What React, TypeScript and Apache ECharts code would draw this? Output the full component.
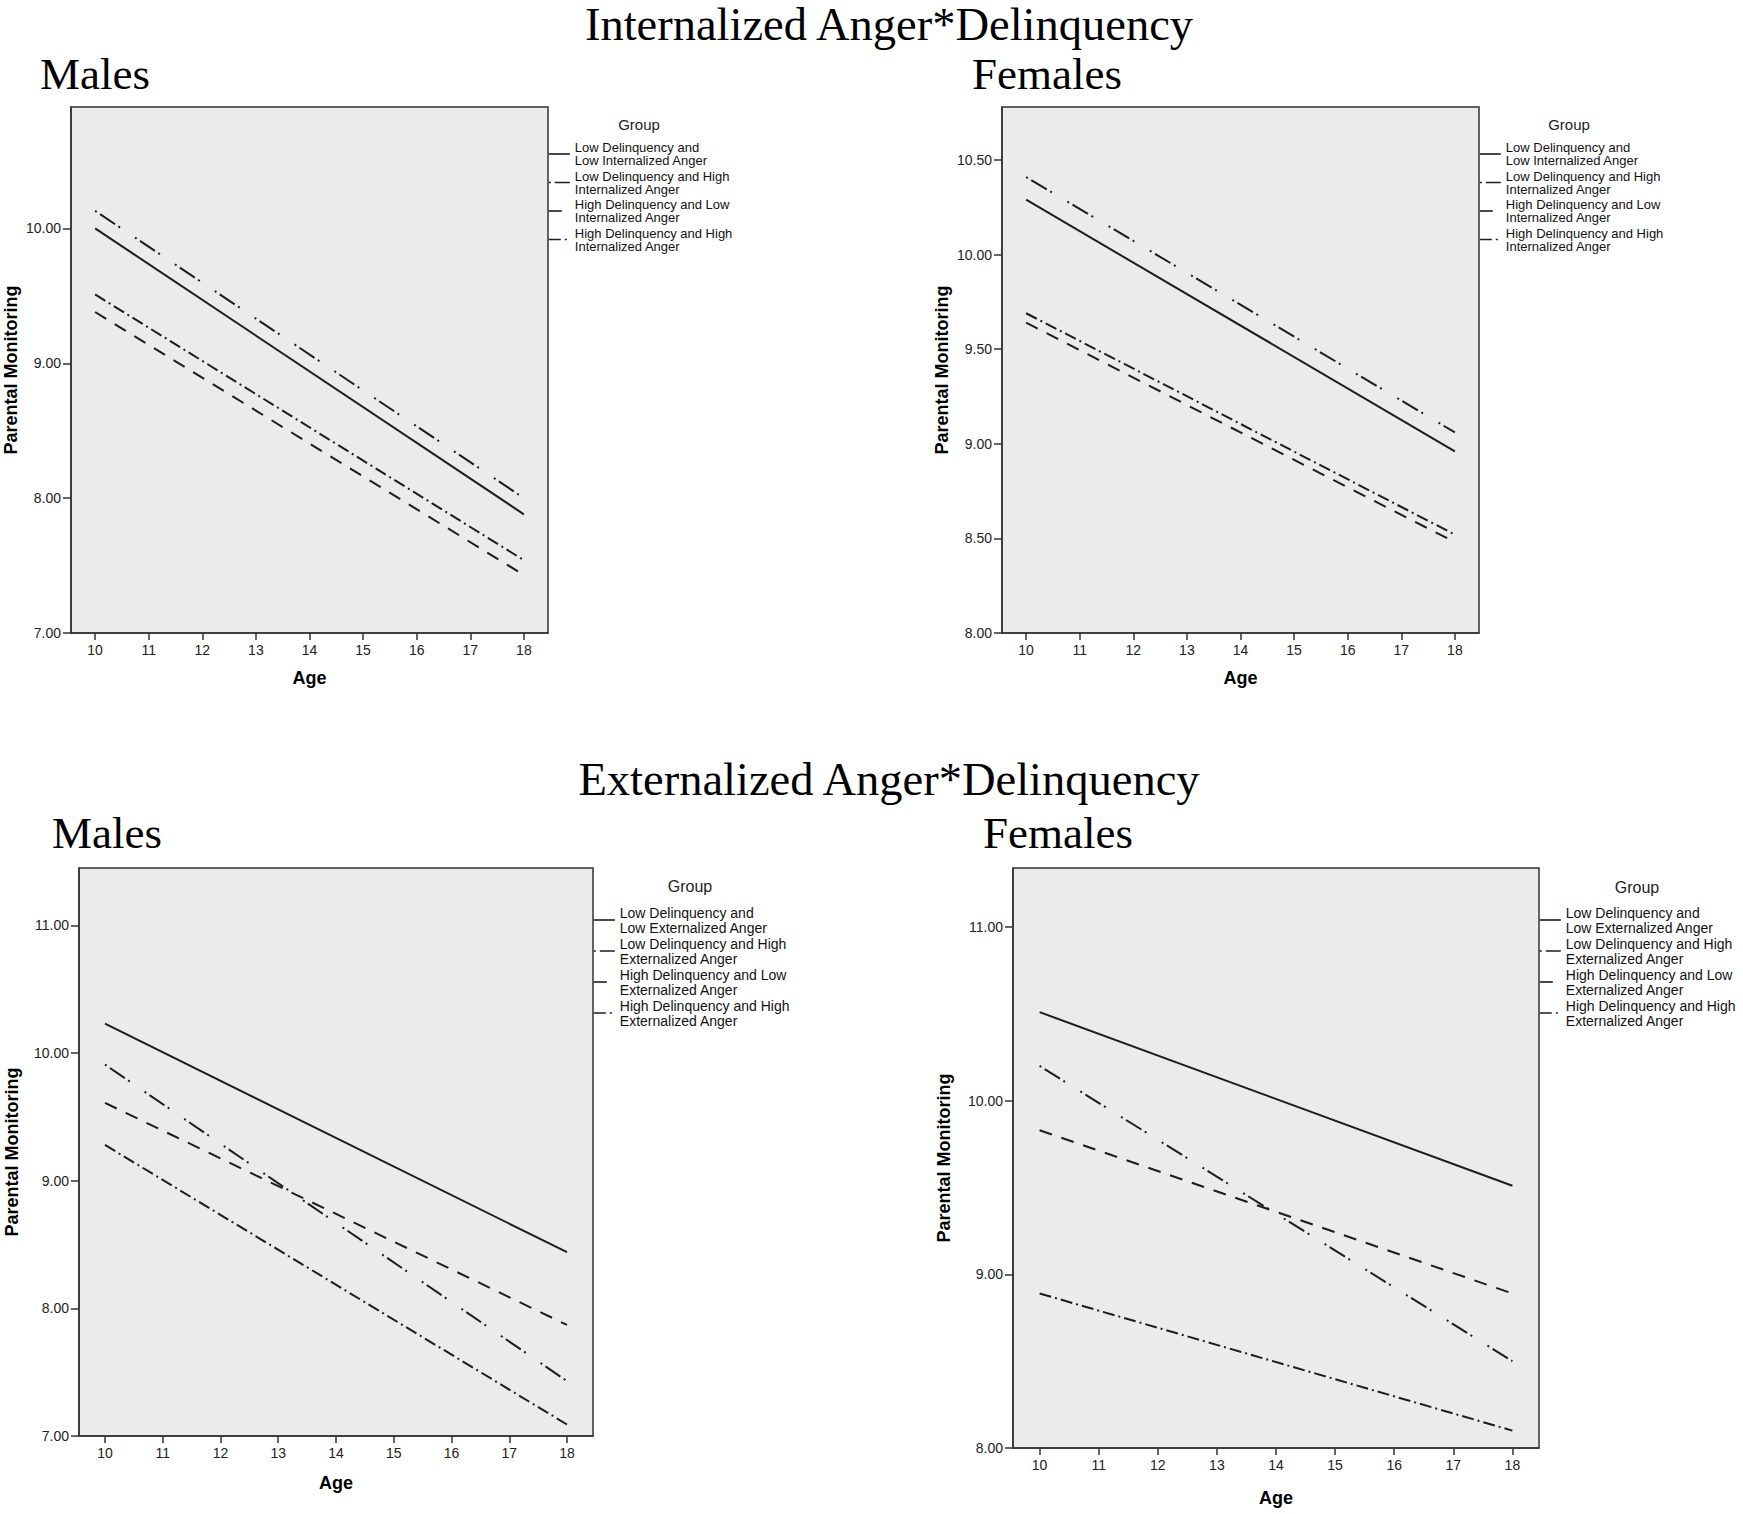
import React, { useEffect, useRef } from "react";
import * as echarts from "echarts";

// ---------- data ----------
const ages = [10, 18];
const xTicks = [10, 11, 12, 13, 14, 15, 16, 17, 18];

const internalizedGroups = [
  "Low Delinquency and\nLow Internalized Anger",
  "Low Delinquency and High\nInternalized Anger",
  "High Delinquency and Low\nInternalized Anger",
  "High Delinquency and High\nInternalized Anger",
];
const externalizedGroups = [
  "Low Delinquency and\nLow Externalized Anger",
  "Low Delinquency and High\nExternalized Anger",
  "High Delinquency and Low\nExternalized Anger",
  "High Delinquency and High\nExternalized Anger",
];

// Parental Monitoring at age 10 and age 18
const intMalesLowLow = [10.0, 7.88];
const intMalesLowHigh = [10.13, 8.0];
const intMalesHighLow = [9.38, 7.43];
const intMalesHighHigh = [9.51, 7.54];

const intFemalesLowLow = [10.29, 8.96];
const intFemalesLowHigh = [10.41, 9.06];
const intFemalesHighLow = [9.64, 8.48];
const intFemalesHighHigh = [9.69, 8.52];

const extMalesLowLow = [10.23, 8.44];
const extMalesLowHigh = [9.91, 7.43];
const extMalesHighLow = [9.61, 7.87];
const extMalesHighHigh = [9.28, 7.09];

const extFemalesLowLow = [10.51, 9.51];
const extFemalesLowHigh = [10.2, 8.5];
const extFemalesHighLow = [9.83, 8.89];
const extFemalesHighHigh = [8.89, 8.1];

const yTicksIntMales = [7, 8, 9, 10];
const yTicksIntFemales = [8, 8.5, 9, 9.5, 10, 10.5];
const yTicksExtMales = [7, 8, 9, 10, 11];
const yTicksExtFemales = [8, 9, 10, 11];

const titleInternalized = "Internalized Anger*Delinquency";
const titleExternalized = "Externalized Anger*Delinquency";

// ---------- layout / style ----------
const lineTypes: any[] = ["solid", [2, 4, 18, 4, 2, 18], [13, 10], [12, 4, 2, 4]];
const LINE_COLOR = "#1c1c1c";
const AXIS_COLOR = "#333333";

const panels = [
  {
    grid: { left: 71, top: 107, width: 477, height: 526 },
    yMin: 7, yMax: 10.9, yTicks: yTicksIntMales,
    groups: internalizedGroups,
    values: [intMalesLowLow, intMalesLowHigh, intMalesHighLow, intMalesHighHigh],
    xNameGap: 36, yNameGap: 51,
    legendTop: 141, legendGap: 2.5, legendFont: 13, legendLH: 13,
    groupX: 639, groupY: 124, groupFont: 15,
  },
  {
    grid: { left: 1002, top: 107, width: 477, height: 526 },
    yMin: 8, yMax: 10.78, yTicks: yTicksIntFemales,
    groups: internalizedGroups,
    values: [intFemalesLowLow, intFemalesLowHigh, intFemalesHighLow, intFemalesHighHigh],
    xNameGap: 36, yNameGap: 51,
    legendTop: 141, legendGap: 2.5, legendFont: 13, legendLH: 13,
    groupX: 1569, groupY: 124, groupFont: 15,
  },
  {
    grid: { left: 79, top: 868, width: 514, height: 568 },
    yMin: 7, yMax: 11.45, yTicks: yTicksExtMales,
    groups: externalizedGroups,
    values: [extMalesLowLow, extMalesLowHigh, extMalesHighLow, extMalesHighHigh],
    xNameGap: 38, yNameGap: 58,
    legendTop: 905, legendGap: 1, legendFont: 14, legendLH: 15,
    groupX: 690, groupY: 886, groupFont: 16,
  },
  {
    grid: { left: 1013, top: 868, width: 526, height: 580 },
    yMin: 8, yMax: 11.34, yTicks: yTicksExtFemales,
    groups: externalizedGroups,
    values: [extFemalesLowLow, extFemalesLowHigh, extFemalesHighLow, extFemalesHighHigh],
    xNameGap: 41, yNameGap: 60,
    legendTop: 905, legendGap: 1, legendFont: 14, legendLH: 15,
    groupX: 1637, groupY: 887, groupFont: 16,
  },
];

const headings = [
  { text: titleInternalized, x: 889, y: 24, align: "center", size: 46.5 },
  { text: "Males", x: 40, y: 74, align: "left", size: 45 },
  { text: "Females", x: 972, y: 74, align: "left", size: 45 },
  { text: titleExternalized, x: 889, y: 779, align: "center", size: 46.5 },
  { text: "Males", x: 52, y: 833, align: "left", size: 45 },
  { text: "Females", x: 983, y: 833, align: "left", size: 45 },
];

function buildOption() {
  const grid: any[] = [];
  const xAxis: any[] = [];
  const yAxis: any[] = [];
  const series: any[] = [];
  const legend: any[] = [];
  const graphic: any[] = [];

  panels.forEach((p, pi) => {
    grid.push({
      ...p.grid,
      show: true,
      backgroundColor: "#ebebeb",
      borderColor: AXIS_COLOR,
      borderWidth: 1.5,
      containLabel: false,
    });
    xAxis.push({
      type: "value",
      gridIndex: pi,
      min: 9.55,
      max: 18.45,
      name: "Age",
      nameLocation: "middle",
      nameGap: p.xNameGap,
      nameTextStyle: { fontWeight: "bold", fontSize: 18, color: "#000", fontFamily: "Liberation Sans" },
      axisLine: { show: true, onZero: false, lineStyle: { color: AXIS_COLOR, width: 1.5 } },
      axisTick: { show: true, length: 7, lineStyle: { color: AXIS_COLOR, width: 1.5 }, customValues: xTicks },
      axisLabel: {
        customValues: xTicks,
        margin: 10,
        fontSize: 14,
        color: "#222",
        fontFamily: "Liberation Sans",
        formatter: (v: number) => String(v),
      },
      splitLine: { show: false },
    });
    yAxis.push({
      type: "value",
      gridIndex: pi,
      min: p.yMin,
      max: p.yMax,
      name: "Parental Monitoring",
      nameLocation: "middle",
      nameGap: p.yNameGap,
      nameTextStyle: { fontWeight: "bold", fontSize: 18, color: "#000", fontFamily: "Liberation Sans" },
      axisLine: { show: true, onZero: false, lineStyle: { color: AXIS_COLOR, width: 1.5 } },
      axisTick: { show: true, length: 8, lineStyle: { color: AXIS_COLOR, width: 1.5 }, customValues: p.yTicks },
      axisLabel: {
        customValues: p.yTicks,
        margin: 10,
        fontSize: 14,
        color: "#222",
        fontFamily: "Liberation Sans",
        formatter: (v: number) => v.toFixed(2),
      },
      splitLine: { show: false },
    });
    p.values.forEach((vals, gi) => {
      series.push({
        type: "line",
        name: p.groups[gi],
        xAxisIndex: pi,
        yAxisIndex: pi,
        data: ages.map((a, j) => [a, vals[j]]),
        symbol: "none",
        silent: true,
        lineStyle: { color: LINE_COLOR, width: 2, type: lineTypes[gi] },
        itemStyle: { color: LINE_COLOR },
        emphasis: { disabled: true },
      });
    });
    legend.push({
      orient: "vertical",
      left: p.grid.left + p.grid.width,
      top: p.legendTop,
      padding: 0,
      itemGap: p.legendGap,
      itemWidth: 21,
      itemHeight: 14,
      selectedMode: false,
      data: p.groups,
      itemStyle: { opacity: 0 },
      lineStyle: { width: 1.6 },
      textStyle: {
        fontSize: p.legendFont,
        lineHeight: p.legendLH,
        color: "#111",
        fontFamily: "Liberation Sans",
      },
    });
    graphic.push({
      type: "text",
      x: p.groupX,
      y: p.groupY,
      style: {
        text: "Group",
        fontSize: p.groupFont,
        fontFamily: "Liberation Sans",
        fill: "#222",
        align: "center",
        verticalAlign: "middle",
      },
    });
  });

  headings.forEach((h) => {
    graphic.push({
      type: "text",
      x: h.x,
      y: h.y,
      style: {
        text: h.text,
        fontSize: h.size,
        fontFamily: "Liberation Serif",
        fill: "#000",
        align: h.align,
        verticalAlign: "middle",
      },
    });
  });

  return {
    animation: false,
    backgroundColor: "#ffffff",
    textStyle: { fontFamily: "Liberation Sans" },
    grid,
    xAxis,
    yAxis,
    series,
    legend,
    graphic,
  };
}

export default function App() {
  const ref = useRef<HTMLDivElement | null>(null);
  useEffect(() => {
    document.body.style.margin = "0";
    document.body.style.overflow = "hidden";
    if (!ref.current) return;
    const chart = echarts.init(ref.current, undefined, { renderer: "svg" });
    chart.setOption(buildOption() as any);
    return () => chart.dispose();
  }, []);
  return <div ref={ref} style={{ width: 1743, height: 1514 }} />;
}
